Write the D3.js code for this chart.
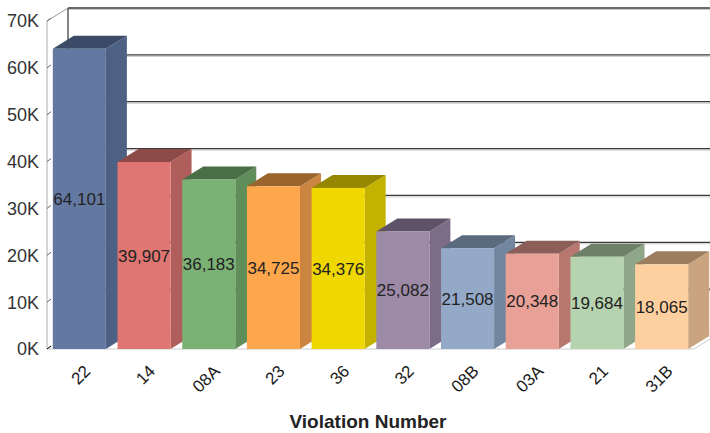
<!DOCTYPE html>
<html>
<head>
<meta charset="utf-8">
<script src="https://cdn.jsdelivr.net/npm/d3@7"></script>
<style>
  body { margin: 0; background: #fff; }
  text { font-family: "Liberation Sans", Arial, sans-serif; }
</style>
</head>
<body>
<script>
const w = 710;
const h = 433;

// data
const categories = ["22", "14", "08A", "23", "36", "32", "08B", "03A", "21", "31B"];
const values = [64101, 39907, 36183, 34725, 34376, 25082, 21508, 20348, 19684, 18065];
const yTicks = [0, 10000, 20000, 30000, 40000, 50000, 60000, 70000];

const frontColors = ["#6479a2", "#e07672", "#7bb174", "#fea64b", "#efd700", "#9d8aa7", "#93a9c7", "#e8a097", "#b5d3ae", "#ffd09f"];
const sideColors  = ["#4d6185", "#b05e5b", "#5f8e5a", "#cc8540", "#c4b200", "#7c6c86", "#72869f", "#b7776f", "#8fa689", "#c9a47e"];
const topColors   = ["#3b4a66", "#8e4a48", "#4a6e45", "#99642d", "#958700", "#5e5266", "#5a6b80", "#8b5e58", "#6e8068", "#9c7d5e"];

// depth offset of the 3d look
const dx = 21, dy = -13;

let svg = d3.select("body")
  .append("svg")
    .attr("width", w)
    .attr("height", h);

let x = d3.scaleBand()
  .domain(categories)
  .range([47, 694])
  .paddingInner(0.18)
  .paddingOuter(0.09);

let y = d3.scaleLinear()
  .domain([0, 70000])
  .range([349, 21]);

const y0 = y(0);

// floor
svg.append("polygon")
  .attr("points", [[47, y0], [694, y0], [694 + dx, y0 + dy], [47 + dx, y0 + dy]].join(" "))
  .attr("fill", "#fff")
  .attr("stroke", "#ccc");

// back wall grid lines
let grid = svg.append("g");
grid.selectAll("line.shade")
  .data(yTicks.slice(1))
  .enter()
  .append("line")
    .attr("x1", 47 + dx).attr("x2", w)
    .attr("y1", d => y(d) + dy + 1.5).attr("y2", d => y(d) + dy + 1.5)
    .attr("stroke", "#c8c8c8").attr("stroke-width", 1);
grid.selectAll("line.main")
  .data(yTicks.slice(1))
  .enter()
  .append("line")
    .attr("x1", 47 + dx).attr("x2", w)
    .attr("y1", d => y(d) + dy).attr("y2", d => y(d) + dy)
    .attr("stroke", "#3a3a3a").attr("stroke-width", 1.3);

// left wall
svg.append("line")
  .attr("x1", 47 + dx).attr("x2", 47 + dx)
  .attr("y1", y(70000) + dy).attr("y2", y0 + dy)
  .attr("stroke", "#333").attr("stroke-width", 1.2);
svg.append("line")
  .attr("x1", 47).attr("x2", 47 + dx)
  .attr("y1", y(70000)).attr("y2", y(70000) + dy)
  .attr("stroke", "#999");
svg.append("line")
  .attr("x1", 47).attr("x2", 47)
  .attr("y1", y(70000)).attr("y2", y0)
  .attr("stroke", "#aaa");
svg.selectAll("line.tick")
  .data(yTicks)
  .enter()
  .append("line")
    .attr("x1", 47).attr("x2", 51)
    .attr("y1", d => y(d)).attr("y2", d => y(d) - 3)
    .attr("stroke", (d, i) => i == 0 ? "#000" : "#666");

// y axis labels
svg.selectAll("text.ylab")
  .data(yTicks)
  .enter()
  .append("text")
    .attr("x", 39)
    .attr("y", d => y(d))
    .attr("dy", "0.36em")
    .attr("text-anchor", "end")
    .attr("font-size", 18)
    .attr("fill", "#333")
    .text(d => d / 1000 + "K");

// bars
let bars = svg.selectAll("g.bar")
  .data(values)
  .enter()
  .append("g");

bars.append("polygon")
  .attr("points", (d, i) => {
    let x1 = x(categories[i]) + x.bandwidth();
    return [[x1, y(d)], [x1 + dx, y(d) + dy], [x1 + dx, y0 + dy], [x1, y0]].join(" ");
  })
  .attr("fill", (d, i) => sideColors[i]);

bars.append("polygon")
  .attr("points", (d, i) => {
    let x0 = x(categories[i]), x1 = x0 + x.bandwidth();
    return [[x0, y(d)], [x0 + dx, y(d) + dy], [x1 + dx, y(d) + dy], [x1, y(d)]].join(" ");
  })
  .attr("fill", (d, i) => topColors[i]);

bars.append("rect")
  .attr("x", (d, i) => x(categories[i]))
  .attr("y", d => y(d))
  .attr("width", x.bandwidth())
  .attr("height", d => y0 - y(d))
  .attr("fill", (d, i) => frontColors[i]);

// value labels
bars.append("text")
  .attr("x", (d, i) => x(categories[i]) + x.bandwidth() / 2)
  .attr("y", d => (y(d) + y0) / 2)
  .attr("dy", "0.36em")
  .attr("text-anchor", "middle")
  .attr("font-size", 17)
  .attr("fill", "#222")
  .text(d => d3.format(",")(d));

// category labels
svg.selectAll("text.xlab")
  .data(categories)
  .enter()
  .append("text")
    .attr("transform", d => "translate(" + (x(d) + x.bandwidth() / 2 + 8) + ",368) rotate(-45)")
    .attr("text-anchor", "end")
    .attr("dy", "0.35em")
    .attr("font-size", 17)
    .attr("fill", "#1a1a1a")
    .text(d => d);

svg.append("text")
  .attr("x", 368)
  .attr("y", 428)
  .attr("text-anchor", "middle")
  .attr("font-size", 19)
  .attr("font-weight", "bold")
  .attr("fill", "#222")
  .text("Violation Number");
</script>
</body>
</html>
